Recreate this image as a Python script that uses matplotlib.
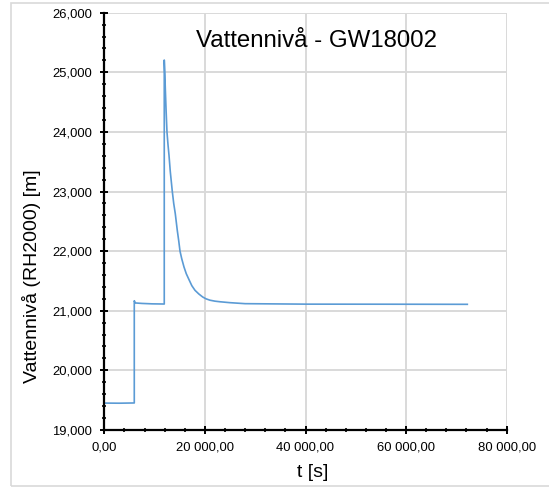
import matplotlib
matplotlib.use("Agg")
import matplotlib.pyplot as plt
from matplotlib.ticker import MultipleLocator, FuncFormatter
from matplotlib.patches import Rectangle

# Data
time_s = [0, 3000, 5960, 5960, 6150, 7500, 9500, 11920, 11920, 12050, 12130,
          12300, 12460, 12660, 12860, 13120, 13520, 13800, 14115, 14510,
          14800, 15050, 15400, 15845, 16300, 16900, 17400, 18030, 18800,
          19560, 20200, 21010, 22000, 23000, 24930, 28000, 40000, 55000,
          72170]
level_m = [19.450, 19.448, 19.452, 21.167, 21.130, 21.122, 21.115, 21.112,
           25.206, 24.950, 24.722, 24.330, 24.000, 23.790, 23.610, 23.333,
           23.000, 22.800, 22.626, 22.347, 22.170, 22.000, 21.870, 21.733,
           21.620, 21.510, 21.420, 21.342, 21.280, 21.230, 21.200, 21.176,
           21.160, 21.150, 21.135, 21.118, 21.110, 21.109, 21.107]

title = "Vattennivå - GW18002"
ylabel = "Vattennivå (RH2000) [m]"
xlabel = "t [s]"

plt.rcParams['font.family'] = ['Liberation Sans', 'DejaVu Sans']

W, H = 549, 490
fig = plt.figure(figsize=(W / 100, H / 100), dpi=100)
ax = fig.add_axes([104.3 / W, 1 - 429.9 / H, 402.4 / W, (429.9 - 12.7) / H])

ax.plot(time_s, level_m, color='#5b9bd5', lw=1.2, zorder=3,
        solid_joinstyle='round')

ax.set_xlim(0, 80000)
ax.set_ylim(19, 26)
ax.xaxis.set_major_locator(MultipleLocator(20000))
ax.xaxis.set_minor_locator(MultipleLocator(4000))
ax.yaxis.set_major_locator(MultipleLocator(1))
ax.yaxis.set_minor_locator(MultipleLocator(0.2))

def fmt_x(v, pos):
    s = f"{v:,.2f}"
    return s.replace(",", " ").replace(".", ",")

def fmt_y(v, pos):
    return f"{v:.3f}".replace(".", ",")

ax.xaxis.set_major_formatter(FuncFormatter(fmt_x))
ax.yaxis.set_major_formatter(FuncFormatter(fmt_y))

ax.grid(True, which='major', color='#d9d9d9', lw=1.4, zorder=0)
ax.set_axisbelow(True)
for s in ['top', 'right']:
    ax.spines[s].set_visible(False)
for s in ['left', 'bottom']:
    ax.spines[s].set_linewidth(1.6)
    ax.spines[s].set_color('black')
    ax.spines[s].set_zorder(4)

ax.tick_params(which='major', direction='inout', length=6, width=1.4,
               labelsize=9.4, colors='black', pad=6)
ax.tick_params(which='minor', direction='inout', length=3.5, width=1.2,
               colors='black')
ax.tick_params(axis='x', which='major', pad=5)

fig.text(196 / W, 1 - 47.3 / H, title, fontsize=17.3, ha='left', va='baseline')
fig.text(32 / W, 1 - 276.6 / H, ylabel, fontsize=14, rotation=90,
         ha='center', va='center')
fig.text(313 / W, 1 - 472 / H, xlabel, fontsize=14, ha='center', va='center')

fig.patches.append(Rectangle((11 / W, 1 - 486 / H), (W - 10) / W, (486 - 3.5) / H,
                             transform=fig.transFigure, fill=False,
                             edgecolor='#d9d9d9', lw=1.2))

fig.savefig("out.png", dpi=100)
